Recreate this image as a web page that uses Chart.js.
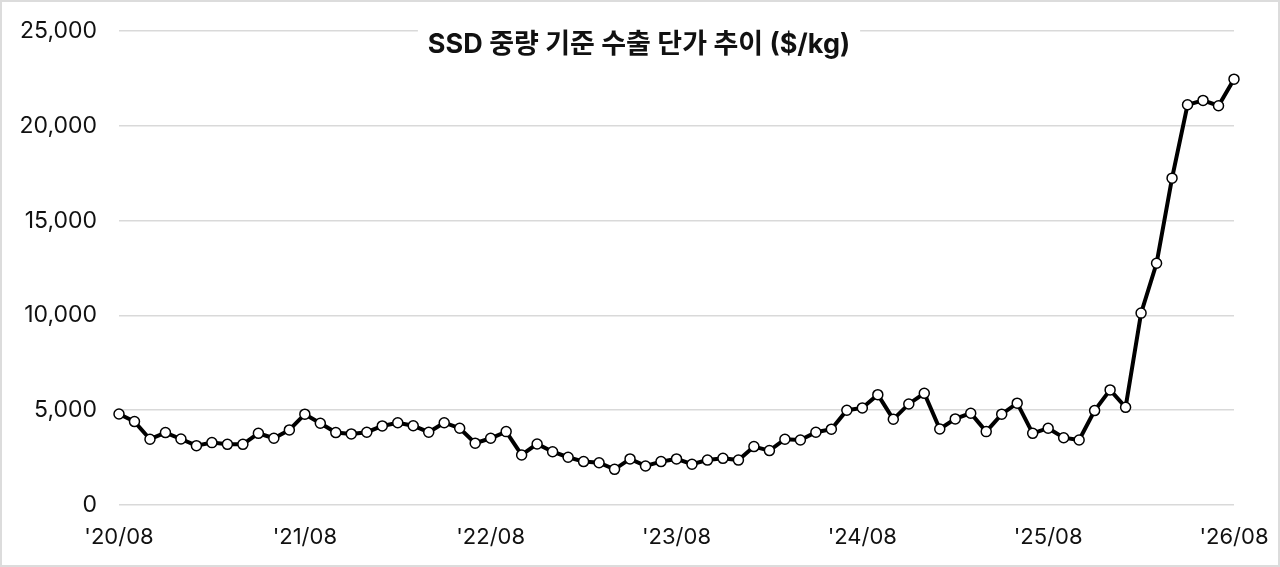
<!DOCTYPE html>
<html>
<head>
<meta charset="utf-8">
<script src="https://cdn.jsdelivr.net/npm/chart.js@4.4.1/dist/chart.umd.min.js"></script>
<style>
    html, body { margin: 0; padding: 0; background: #fff; }
    #wrap { position: relative; width: 1280px; height: 567px; }
    #frame { position: absolute; left: 0; top: 0; width: 1280px; height: 567px; box-sizing: border-box; border: 2px solid #dcdcdc; pointer-events: none; }
</style>
</head>
<body>
<div id="wrap">
    <canvas id="priceChart" width="1280" height="567"></canvas>
    <div id="frame"></div>
</div>
<script>
const chartTitle = 'SSD 중량 기준 수출 단가 추이 ($/kg)';

// 월별 카테고리 ('20/08 ~ '26/08)
const months = [
    "'20/08", "'20/09", "'20/10", "'20/11", "'20/12", "'21/01", "'21/02", "'21/03", "'21/04", "'21/05", "'21/06", "'21/07",
    "'21/08", "'21/09", "'21/10", "'21/11", "'21/12", "'22/01", "'22/02", "'22/03", "'22/04", "'22/05", "'22/06", "'22/07",
    "'22/08", "'22/09", "'22/10", "'22/11", "'22/12", "'23/01", "'23/02", "'23/03", "'23/04", "'23/05", "'23/06", "'23/07",
    "'23/08", "'23/09", "'23/10", "'23/11", "'23/12", "'24/01", "'24/02", "'24/03", "'24/04", "'24/05", "'24/06", "'24/07",
    "'24/08", "'24/09", "'24/10", "'24/11", "'24/12", "'25/01", "'25/02", "'25/03", "'25/04", "'25/05", "'25/06", "'25/07",
    "'25/08", "'25/09", "'25/10", "'25/11", "'25/12", "'26/01", "'26/02", "'26/03", "'26/04", "'26/05", "'26/06", "'26/07",
    "'26/08"
];

// 단가 ($/kg)
const unitPrice = [
    4800, 4400, 3470, 3820, 3480, 3130, 3290, 3200, 3200, 3780, 3520, 3960,
    4790, 4310, 3820, 3750, 3840, 4170, 4340, 4180, 3840, 4340, 4050, 3260,
    3520, 3870, 2640, 3220, 2810, 2520, 2290, 2230, 1880, 2430, 2060, 2290,
    2430, 2150, 2370, 2460, 2370, 3080, 2870, 3470, 3430, 3840, 4000, 5000,
    5120, 5820, 4520, 5330, 5890, 4010, 4540, 4840, 3870, 4790, 5370, 3780,
    4050, 3550, 3430, 4980, 6070, 5150, 10120, 12750, 17240, 21110, 21340, 21060,
    22460
];

const yTicks = [0, 5000, 10000, 15000, 20000, 25000];

const fontFamily = 'Inter, "Noto Sans CJK KR", sans-serif';

// 제목은 차트 영역 안, 흰 배경 위에 그림
const titlePlugin = {
    id: 'insideTitle',
    afterDraw(chart) {
        const ctx = chart.ctx;
        ctx.save();
        ctx.font = 'bold 27px ' + fontFamily;
        const w = ctx.measureText(chartTitle).width;
        const cx = 639;
        const cy = 45;
        ctx.fillStyle = '#ffffff';
        ctx.fillRect(cx - w / 2 - 10, cy - 19, w + 20, 38);
        ctx.fillStyle = '#111111';
        ctx.textAlign = 'center';
        ctx.textBaseline = 'middle';
        ctx.fillText(chartTitle, cx, cy);
        ctx.restore();
    }
};

const ctx = document.getElementById('priceChart').getContext('2d');

new Chart(ctx, {
    type: 'line',
    data: {
        labels: months,
        datasets: [{
            label: chartTitle,
            data: unitPrice,
            borderColor: '#000000',
            borderWidth: 4,
            pointRadius: 5,
            pointBorderWidth: 1.5,
            pointBackgroundColor: '#ffffff',
            pointBorderColor: '#000000',
            tension: 0
        }]
    },
    options: {
        responsive: false,
        animation: false,
        layout: {
            padding: { left: 0, right: 46, top: 31, bottom: 0 }
        },
        plugins: {
            legend: { display: false },
            title: { display: false },
            tooltip: { enabled: false }
        },
        scales: {
            x: {
                grid: { display: false, drawTicks: false },
                border: { display: false },
                ticks: {
                    autoSkip: false,
                    maxRotation: 0,
                    padding: 19,
                    color: '#111111',
                    font: { family: fontFamily, size: 22 },
                    callback: function (value, index) {
                        return index % 12 === 0 ? months[index] : '';
                    }
                },
                afterFit: function (scale) {
                    scale.height = 62;
                    scale.paddingLeft = 0;
                    scale.paddingRight = 0;
                }
            },
            y: {
                min: 0,
                max: 25000,
                afterBuildTicks: function (scale) {
                    scale.ticks = yTicks.map(v => ({ value: v }));
                },
                grid: { color: '#d9d9d9', lineWidth: 1.5, drawTicks: false },
                border: { display: false },
                ticks: {
                    padding: 22,
                    color: '#111111',
                    font: { family: fontFamily, size: 23 },
                    callback: function (value) { return value.toLocaleString('en-US'); }
                },
                afterFit: function (scale) {
                    scale.width = 119;
                    scale.paddingTop = 0;
                    scale.paddingBottom = 0;
                }
            }
        }
    },
    plugins: [titlePlugin]
});
</script>
</body>
</html>
